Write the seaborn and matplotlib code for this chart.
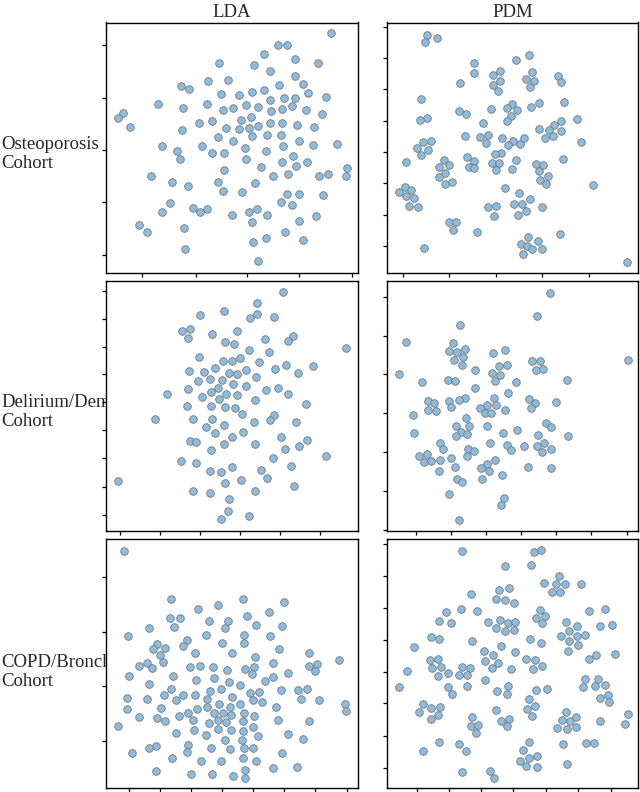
import matplotlib
matplotlib.use("Agg")
import matplotlib.pyplot as plt
import pandas as pd
import seaborn as sns

sns.set_style("white")
plt.rcParams["font.family"] = ["Liberation Serif", "DejaVu Serif"]

methods = ["LDA", "PDM"]
cohorts = ["Osteoporosis\nCohort", "Delirium/Dementia\nCohort", "COPD/Bronchitis\nCohort"]

# embedding coordinates (arbitrary units, y grows downward)
osteo_lda = [
    (692, 100), (533, 134), (562, 136), (493, 163), (585, 177), (357, 189), (653, 188),
    (461, 196), (510, 212), (586, 228), (325, 242), (384, 239), (536, 256), (608, 252),
    (243, 257), (267, 268), (492, 269), (455, 276), (624, 278), (363, 283), (417, 285),
    (509, 299), (551, 293), (586, 293), (678, 291), (173, 311), (320, 313), (438, 315),
    (475, 321), (575, 319), (249, 323), (369, 329), (400, 323), (545, 327), (618, 330),
    (514, 333), (68, 339), (53, 353), (667, 342), (453, 352), (423, 359), (336, 363),
    (298, 368), (509, 368), (547, 369), (90, 381), (377, 383), (416, 388), (446, 383),
    (475, 377), (591, 376), (642, 380), (245, 390), (501, 404), (543, 405), (353, 411),
    (456, 408), (400, 423), (597, 423), (711, 431), (185, 438), (306, 437), (548, 439),
    (638, 434), (435, 443), (231, 452), (497, 452), (337, 458), (371, 460), (580, 468),
    (241, 477), (438, 478), (546, 485), (621, 487), (587, 498), (741, 504), (482, 502),
    (371, 509), (683, 521), (656, 529), (737, 527), (152, 529), (520, 527), (563, 521),
    (215, 547), (355, 546), (466, 550), (263, 558), (368, 573), (425, 577), (562, 583),
    (598, 583), (668, 585), (542, 605), (210, 609), (575, 615), (279, 624), (299, 636),
    (322, 628), (185, 636), (446, 635), (471, 627), (396, 645), (501, 644), (648, 648),
    (455, 667), (598, 663), (118, 676), (251, 683), (140, 695), (554, 696), (499, 714),
    (610, 721), (458, 727), (254, 747), (474, 784),
]

osteo_pdm = [
    (171, 104), (165, 125), (202, 115), (476, 164), (438, 180), (311, 190), (389, 213),
    (313, 218), (486, 216), (370, 224), (564, 228), (469, 238), (493, 244), (390, 242),
    (270, 248), (572, 246), (369, 254), (479, 262), (385, 274), (154, 296), (582, 306),
    (507, 308), (427, 313), (484, 321), (411, 325), (442, 329), (266, 332), (364, 328),
    (289, 341), (423, 348), (172, 353), (150, 360), (412, 362), (573, 363), (620, 356),
    (339, 369), (551, 376), (507, 388), (536, 390), (572, 392), (285, 409), (329, 412),
    (355, 405), (397, 413), (525, 413), (550, 409), (347, 428), (429, 424), (414, 435),
    (449, 433), (462, 415), (159, 427), (184, 423), (634, 425), (142, 445), (173, 449),
    (153, 465), (393, 458), (374, 461), (290, 471), (222, 481), (311, 482), (437, 479),
    (580, 478), (109, 486), (499, 491), (518, 495), (367, 490), (388, 488), (208, 501),
    (238, 496), (297, 500), (313, 504), (427, 506), (377, 511), (506, 514), (226, 519),
    (534, 527), (206, 531), (510, 540), (245, 545), (224, 551), (527, 551), (668, 556),
    (104, 561), (123, 569), (86, 577), (109, 587), (405, 564), (446, 579), (131, 595),
    (479, 596), (433, 611), (457, 612), (118, 617), (143, 621), (355, 620), (378, 619),
    (516, 621), (469, 634), (373, 648), (443, 645), (238, 666), (257, 666), (248, 689),
    (321, 697), (569, 703), (474, 712), (504, 723), (453, 731), (472, 737), (487, 746),
    (516, 746), (163, 744), (459, 761), (772, 785),
]

delirium_lda = [
    (548, 66), (472, 100), (373, 123), (299, 135), (470, 131), (449, 145), (523, 140),
    (246, 184), (269, 178), (410, 182), (336, 192), (578, 197), (264, 205), (494, 206),
    (564, 214), (375, 217), (402, 222), (739, 233), (447, 240), (508, 246), (297, 260),
    (421, 263), (370, 272), (396, 272), (477, 276), (559, 284), (638, 287), (344, 294),
    (526, 297), (267, 302), (311, 305), (437, 300), (387, 308), (410, 312), (594, 309),
    (469, 321), (330, 327), (367, 329), (293, 333), (398, 343), (437, 347), (265, 356),
    (355, 355), (333, 366), (535, 354), (497, 361), (200, 371), (379, 372), (410, 376),
    (563, 371), (306, 380), (356, 387), (466, 389), (617, 402), (261, 409), (333, 407),
    (375, 412), (405, 415), (426, 431), (522, 434), (165, 448), (278, 446), (337, 447),
    (509, 449), (463, 455), (588, 455), (373, 466), (319, 470), (346, 488), (429, 485),
    (397, 500), (544, 502), (269, 513), (287, 516), (622, 510), (371, 522), (466, 522),
    (596, 529), (556, 537), (333, 539), (679, 559), (520, 563), (242, 573), (288, 579),
    (574, 588), (397, 591), (483, 599), (330, 604), (362, 607), (500, 623), (54, 633),
    (423, 630), (376, 638), (583, 648), (279, 662), (329, 670), (465, 663), (388, 687),
    (383, 723), (448, 737), (362, 748),
]

delirium_pdm = [
    (540, 68), (500, 138), (269, 166), (108, 215), (250, 220), (237, 244), (261, 246),
    (286, 236), (405, 240), (370, 248), (278, 260), (251, 269), (485, 273), (511, 272),
    (773, 270), (386, 288), (410, 286), (276, 285), (499, 299), (520, 297), (316, 301),
    (366, 308), (389, 315), (88, 313), (155, 337), (235, 330), (256, 333), (591, 330),
    (375, 333), (438, 336), (315, 355), (414, 370), (372, 383), (284, 384), (267, 391),
    (237, 394), (476, 388), (173, 394), (193, 400), (496, 400), (559, 396), (243, 410),
    (377, 405), (351, 405), (331, 413), (483, 414), (174, 419), (198, 424), (404, 420),
    (345, 430), (364, 428), (130, 436), (289, 444), (529, 458), (544, 472), (259, 467),
    (297, 468), (350, 469), (440, 480), (272, 485), (258, 497), (291, 493), (131, 489),
    (399, 489), (504, 496), (594, 498), (209, 520), (359, 518), (462, 527), (410, 524),
    (500, 527), (521, 518), (218, 537), (293, 537), (312, 543), (422, 540), (544, 538),
    (517, 545), (292, 557), (146, 558), (170, 551), (242, 563), (163, 576), (182, 573),
    (209, 571), (374, 571), (352, 583), (256, 591), (334, 593), (475, 592), (543, 594),
    (206, 604), (356, 603), (396, 614), (260, 628), (277, 635), (335, 626), (237, 673),
    (401, 685), (393, 705), (268, 750),
]

copd_lda = [
    (71, 63), (214, 207), (428, 207), (553, 216), (353, 226), (294, 236), (506, 245),
    (211, 264), (240, 264), (442, 258), (328, 272), (383, 273), (221, 290), (376, 293),
    (146, 294), (469, 286), (545, 287), (84, 317), (317, 316), (432, 316), (510, 318),
    (262, 329), (172, 341), (249, 347), (196, 353), (160, 357), (365, 340), (433, 338),
    (537, 358), (285, 368), (396, 369), (628, 369), (180, 376), (464, 382), (190, 395),
    (716, 389), (142, 399), (117, 407), (157, 415), (520, 398), (652, 401), (628, 407),
    (463, 410), (436, 416), (269, 412), (299, 409), (340, 410), (381, 421), (646, 422),
    (563, 429), (457, 433), (87, 439), (219, 438), (342, 444), (289, 449), (518, 442),
    (496, 453), (387, 457), (420, 464), (148, 461), (213, 478), (543, 480), (594, 480),
    (621, 476), (330, 484), (362, 478), (192, 496), (249, 494), (285, 495), (449, 489),
    (477, 487), (80, 504), (140, 508), (228, 510), (320, 507), (397, 500), (602, 507),
    (658, 510), (458, 510), (487, 515), (421, 522), (356, 521), (736, 523), (737, 542),
    (529, 530), (82, 538), (182, 535), (292, 537), (389, 532), (320, 530), (265, 550),
    (341, 549), (368, 549), (237, 557), (117, 560), (393, 556), (431, 550), (462, 559),
    (172, 564), (279, 571), (354, 569), (377, 576), (327, 579), (428, 573), (194, 574),
    (533, 569), (627, 574), (53, 588), (460, 591), (282, 600), (353, 597), (392, 600),
    (430, 603), (228, 610), (318, 616), (474, 618), (563, 611), (610, 626), (374, 631),
    (425, 631), (263, 645), (168, 648), (148, 655), (332, 654), (391, 657), (433, 655),
    (458, 654), (262, 665), (97, 668), (546, 668), (217, 683), (430, 683), (304, 692),
    (362, 693), (469, 692), (520, 714), (592, 712), (169, 724), (434, 720), (273, 733),
    (336, 732), (398, 737), (436, 743),
]

copd_pdm = [
    (277, 62), (493, 65), (512, 60), (405, 107), (482, 106), (566, 138), (522, 160),
    (557, 162), (586, 162), (632, 162), (545, 185), (571, 187), (303, 192), (417, 174),
    (387, 180), (379, 206), (405, 209), (431, 219), (509, 239), (525, 258), (499, 263),
    (515, 279), (273, 238), (228, 245), (320, 243), (656, 243), (705, 237), (208, 273),
    (243, 280), (353, 275), (389, 271), (413, 280), (435, 275), (378, 294), (404, 302),
    (433, 299), (587, 276), (622, 288), (691, 287), (726, 285), (183, 320), (206, 326),
    (572, 318), (597, 303), (620, 318), (645, 314), (481, 327), (307, 333), (596, 332),
    (514, 340), (624, 344), (393, 347), (132, 351), (341, 362), (369, 375), (436, 365),
    (593, 362), (735, 371), (677, 375), (179, 391), (205, 387), (345, 392), (467, 386),
    (495, 389), (656, 388), (385, 398), (187, 415), (213, 410), (276, 410), (300, 413),
    (367, 415), (423, 418), (488, 418), (517, 407), (111, 423), (235, 428), (203, 438),
    (266, 434), (290, 434), (344, 449), (645, 448), (684, 447), (704, 464), (640, 470),
    (674, 467), (87, 470), (234, 471), (292, 468), (415, 469), (497, 479), (531, 477),
    (380, 482), (410, 492), (246, 493), (713, 494), (690, 505), (716, 516), (477, 508),
    (158, 521), (147, 545), (183, 535), (211, 532), (183, 567), (204, 555), (471, 536),
    (494, 527), (487, 558), (379, 541), (587, 547), (307, 562), (393, 574), (418, 566),
    (575, 571), (599, 574), (619, 561), (690, 574), (775, 552), (765, 581), (302, 589),
    (323, 586), (410, 588), (319, 608), (560, 594), (591, 598), (618, 590), (208, 635),
    (266, 642), (476, 637), (580, 641), (649, 640), (672, 640), (159, 664), (287, 662),
    (459, 660), (500, 677), (477, 684), (450, 694), (468, 709), (500, 711), (592, 703),
    (276, 725), (360, 722), (372, 744),
]

panels = [[osteo_lda, osteo_pdm], [delirium_lda, delirium_pdm], [copd_lda, copd_pdm]]

# axis ranges and tick marks for each panel
xlims = [[(18, 774), (51, 804)]] * 3
ylims = [[(819, 67)] * 2, [(782, 33)] * 2, [(774, 27)] * 2]
xticks = [
    [[127, 287, 441, 598, 757], [98, 238, 377, 517, 656]],
    [[60, 180, 300, 420, 540, 660], [138, 243, 348, 453, 558, 663, 771]],
    [[87, 180, 273, 366, 458, 552, 645, 740], [140, 237, 333, 430, 527, 625, 722]],
]
yticks = [
    [[135, 293, 450, 607, 764], [80, 175, 268, 362, 457, 550, 645, 738]],
    [[62, 147, 230, 313, 397, 480, 565, 650, 735], [80, 197, 313, 430, 547, 664, 781]],
    [[140, 305, 468, 632], [42, 138, 235, 330, 425, 520, 617, 713]],
]

W, H = 640, 792
fig = plt.figure(figsize=(6.4, 7.92), dpi=100)
col_px = [(106, 358), (387, 638)]
row_px = [(22.5, 273), (281, 530.5), (539, 788)]
label_y = [154, 412, 672]

for r in range(3):
    y0, y1 = row_px[r]
    # row label sits behind the axes so long names get cut off like the original
    fig.text(1 / W, 1 - label_y[r] / H, cohorts[r], ha="left", va="center",
             fontsize=13.5, linespacing=1.1, zorder=-1)
    for c in range(2):
        x0, x1 = col_px[c]
        ax = fig.add_axes([x0 / W, 1 - y1 / H, (x1 - x0) / W, (y1 - y0) / H])
        ax.set_facecolor("white")
        df = pd.DataFrame(panels[r][c], columns=["x", "y"])
        sns.scatterplot(data=df, x="x", y="y", ax=ax, s=30, color="#91bbdb",
                        edgecolor="#6e7a84", linewidth=0.6)
        ax.set_xlim(*xlims[r][c])
        ax.set_ylim(*ylims[r][c])
        ax.set_xticks(xticks[r][c])
        ax.set_yticks(yticks[r][c])
        ax.tick_params(left=True, bottom=True, direction="out", length=3, width=0.9,
                       labelleft=False, labelbottom=False, color="black")
        ax.set_xlabel("")
        ax.set_ylabel("")
        for sp in ax.spines.values():
            sp.set_color("black")
            sp.set_linewidth(1.0)
        if r == 0:
            ax.set_title(methods[c], fontsize=13.5, pad=4)

fig.savefig("out.png", dpi=100)
